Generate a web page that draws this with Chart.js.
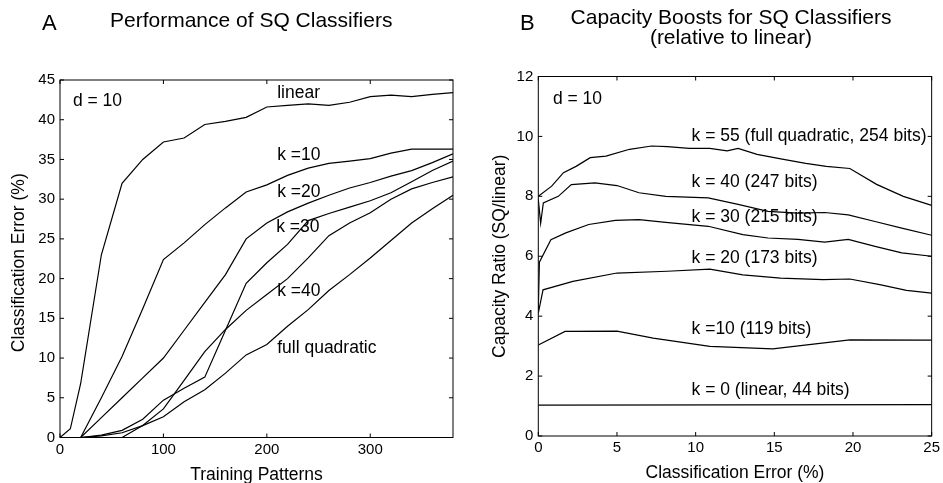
<!DOCTYPE html>
<html>
<head>
<meta charset="utf-8">
<script src="https://cdn.jsdelivr.net/npm/chart.js"></script>
<style>
    body { margin: 0; background: #fff; width: 943px; height: 483px; overflow: hidden; position: relative; }
    canvas { position: absolute; top: 0; }
    #chartA { left: 0; }
    #chartB { left: 470px; }
</style>
</head>
<body>
<canvas id="chartA" width="470" height="483"></canvas>
<canvas id="chartB" width="473" height="483"></canvas>
<script>
    // ---- panel A : error vs training patterns ----
    const trainingPatterns = [0, 10, 20, 40, 60, 80, 100, 120, 140, 160, 180, 200, 220, 240, 260, 280, 300, 320, 340, 360, 380];
    const errLinear = [0, 1.1, 6.8, 23, 32, 35, 37.2, 37.7, 39.4, 39.8, 40.3, 41.6, 41.8, 42, 41.8, 42.2, 42.9, 43.1, 42.9, 43.2, 43.4];
    const errK10 = [0, 0, 0, 5, 10.2, 16.2, 22.4, 24.5, 26.8, 28.9, 30.9, 31.8, 33, 33.9, 34.5, 34.8, 35.1, 35.8, 36.3, 36.3, 36.3];
    const errK20 = [0, 0, 0, 2.5, 5, 7.5, 10, 13.5, 17, 20.5, 25, 27, 28.4, 29.5, 30.5, 31.4, 32.1, 32.9, 33.6, 34.6, 35.7];
    const errK30 = [0, 0, 0, 0.3, 0.9, 2.3, 4.7, 6.2, 7.6, 13.5, 19.4, 22, 24.3, 27.3, 28.2, 29, 29.8, 30.8, 32.2, 33.6, 34.8];
    const errK40 = [0, 0, 0, 0, 0, 1.5, 3.6, 7.2, 10.8, 13.6, 16, 18, 20, 22.6, 25.4, 27, 28.3, 30, 31.3, 32.1, 32.8];
    const errFull = [0, 0, 0, 0.2, 0.6, 1.5, 2.6, 4.5, 6, 8.1, 10.4, 11.7, 14, 16.1, 18.5, 20.5, 22.6, 24.8, 27, 28.8, 30.5];
    const ticksAX = [0, 100, 200, 300];
    const ticksAY = [0, 5, 10, 15, 20, 25, 30, 35, 40, 45];

    // ---- panel B : capacity ratio vs classification error ----
    const k55X = [0, 0.85, 1.6, 2.4, 3.3, 4.3, 5.8, 7.2, 8.2, 9.6, 10.9, 12, 12.7, 13.9, 15.5, 17, 18.3, 19.8, 21.5, 23.2, 25];
    const k55Y = [8.0, 8.34, 8.79, 9.0, 9.29, 9.34, 9.57, 9.68, 9.66, 9.6, 9.6, 9.52, 9.6, 9.4, 9.24, 9.1, 9.0, 8.93, 8.4, 8.0, 7.7];
    const k40X = [0, 0.15, 0.32, 1.27, 2.1, 3.6, 5, 6.4, 8.1, 10.8, 12.7, 14.6, 16.5, 18.2, 19.7, 21.4, 23.1, 25];
    const k40Y = [7.9, 7.1, 7.78, 8.0, 8.39, 8.45, 8.36, 8.12, 8.0, 7.95, 7.73, 7.5, 7.44, 7.46, 7.38, 7.16, 6.94, 6.7];
    const k30X = [0, 0.07, 0.8, 1.75, 3.2, 4.9, 6.4, 8.1, 10.8, 13, 14.6, 16.5, 18.2, 19.7, 21.4, 23.1, 25];
    const k30Y = [4.2, 5.8, 6.55, 6.78, 7.06, 7.2, 7.22, 7.13, 7.0, 6.72, 6.61, 6.56, 6.47, 6.56, 6.33, 6.11, 6.0];
    const k20X = [0, 0.3, 2.2, 5, 8.2, 10.9, 13, 15.4, 18.1, 19.8, 21.7, 23.4, 25];
    const k20Y = [4.1, 4.88, 5.16, 5.44, 5.5, 5.57, 5.38, 5.27, 5.22, 5.24, 5.05, 4.86, 4.77];
    const k10X = [0, 1.7, 5, 7.3, 10.9, 14.9, 19.8, 25];
    const k10Y = [3.04, 3.49, 3.5, 3.27, 2.99, 2.91, 3.21, 3.2];
    const k0X = [0, 25];
    const k0Y = [1.03, 1.05];
    const ticksBX = [0, 5, 10, 15, 20, 25];
    const ticksBY = [0, 2, 4, 6, 8, 10, 12];

    const FONT = '"Liberation Sans", Arial, Helvetica, sans-serif';
    Chart.defaults.font.family = FONT;
    Chart.defaults.color = '#000';

    function pairs(xs, ys) {
        return xs.map((x, i) => ({x: x, y: ys[i]}));
    }

    function curve(xs, ys) {
        return {
            data: pairs(xs, ys),
            showLine: true,
            borderColor: '#000',
            borderWidth: 1.2,
            pointRadius: 0,
            tension: 0
        };
    }

    // box, inward ticks (matlab look), labels and titles
    const framePlugin = {
        id: 'frame',
        afterDraw(chart, args, opts) {
            const ctx = chart.ctx;
            const a = chart.chartArea;
            const sx = chart.scales.x, sy = chart.scales.y;
            ctx.save();
            ctx.strokeStyle = '#000';
            ctx.lineWidth = 1;
            ctx.strokeRect(a.left, a.top, a.right - a.left, a.bottom - a.top);
            ctx.beginPath();
            sx.ticks.forEach(t => {
                const p = sx.getPixelForValue(t.value);
                ctx.moveTo(p, a.bottom); ctx.lineTo(p, a.bottom - 4);
                ctx.moveTo(p, a.top); ctx.lineTo(p, a.top + 4);
            });
            sy.ticks.forEach(t => {
                const p = sy.getPixelForValue(t.value);
                ctx.moveTo(a.left, p); ctx.lineTo(a.left + 4, p);
                ctx.moveTo(a.right, p); ctx.lineTo(a.right - 4, p);
            });
            ctx.stroke();

            ctx.fillStyle = '#000';
            ctx.textBaseline = 'middle';
            // labels inside the plot, placed in data units
            ctx.textAlign = 'left';
            ctx.font = '17.5px ' + FONT;
            opts.notes.forEach(n => {
                ctx.fillText(n.text, sx.getPixelForValue(n.x), sy.getPixelForValue(n.y));
            });
            // axis titles
            ctx.textAlign = 'center';
            ctx.font = '17.5px ' + FONT;
            ctx.fillText(opts.xTitle, (a.left + a.right) / 2, opts.xTitleY);
            ctx.save();
            ctx.translate(opts.yTitleX, (a.top + a.bottom) / 2 + opts.yTitleShift);
            ctx.rotate(-Math.PI / 2);
            ctx.fillText(opts.yTitle, 0, 0);
            ctx.restore();
            // panel letter and heading
            opts.headings.forEach(h => {
                ctx.font = h.size + 'px ' + FONT;
                ctx.textAlign = h.align;
                ctx.fillText(h.text, h.x, h.y);
            });
            ctx.restore();
        }
    };

    function axes(xMin, xMax, xTicks, yMin, yMax, yTicks, yWidth, xHeight) {
        return {
            x: {
                type: 'linear', min: xMin, max: xMax,
                afterBuildTicks: s => { s.ticks = xTicks.map(v => ({value: v})); },
                afterFit: s => { s.height = xHeight; },
                grid: {display: false, drawTicks: false},
                border: {display: false},
                ticks: {padding: 3, autoSkip: false, maxRotation: 0, color: '#000', font: {size: 15}}
            },
            y: {
                type: 'linear', min: yMin, max: yMax,
                afterBuildTicks: s => { s.ticks = yTicks.map(v => ({value: v})); },
                afterFit: s => { s.width = yWidth; },
                grid: {display: false, drawTicks: false},
                border: {display: false},
                ticks: {padding: 5, autoSkip: false, color: '#000', font: {size: 15}}
            }
        };
    }

    new Chart(document.getElementById('chartA'), {
        type: 'scatter',
        data: {
            datasets: [
                curve(trainingPatterns, errLinear),
                curve(trainingPatterns, errK10),
                curve(trainingPatterns, errK20),
                curve(trainingPatterns, errK30),
                curve(trainingPatterns, errK40),
                curve(trainingPatterns, errFull)
            ]
        },
        options: {
            responsive: false,
            animation: false,
            layout: {padding: {top: 80, right: 17, left: 0, bottom: 0}},
            scales: axes(0, 380, ticksAX, 0, 45, ticksAY, 60, 45.5),
            plugins: {
                legend: {display: false},
                tooltip: {enabled: false},
                frame: {
                    notes: [
                        {text: 'd = 10', x: 12.5, y: 42.3},
                        {text: 'linear', x: 210, y: 43.4},
                        {text: 'k =10', x: 210, y: 35.5},
                        {text: 'k =20', x: 210, y: 30.9},
                        {text: 'k =30', x: 209, y: 26.5},
                        {text: 'k =40', x: 210, y: 18.4},
                        {text: 'full quadratic', x: 210, y: 11.2}
                    ],
                    xTitle: 'Training Patterns',
                    xTitleY: 475,
                    yTitle: 'Classification Error (%)',
                    yTitleX: 19,
                    yTitleShift: 4,
                    headings: [
                        {text: 'A', x: 42, y: 24, size: 22, align: 'left'},
                        {text: 'Performance of SQ Classifiers', x: 110, y: 21, size: 21, align: 'left'}
                    ]
                }
            }
        },
        plugins: [framePlugin]
    });

    new Chart(document.getElementById('chartB'), {
        type: 'scatter',
        data: {
            datasets: [
                curve(k55X, k55Y),
                curve(k40X, k40Y),
                curve(k30X, k30Y),
                curve(k20X, k20Y),
                curve(k10X, k10Y),
                curve(k0X, k0Y)
            ]
        },
        options: {
            responsive: false,
            animation: false,
            layout: {padding: {top: 76.5, right: 11, left: 0, bottom: 0}},
            scales: axes(0, 25, ticksBX, 0, 12, ticksBY, 68.3, 47),
            plugins: {
                legend: {display: false},
                tooltip: {enabled: false},
                frame: {
                    notes: [
                        {text: 'd = 10', x: 0.93, y: 11.24},
                        {text: 'k = 55 (full quadratic, 254 bits)', x: 9.74, y: 10.0},
                        {text: 'k = 40 (247 bits)', x: 9.74, y: 8.46},
                        {text: 'k = 30 (215 bits)', x: 9.74, y: 7.29},
                        {text: 'k = 20 (173 bits)', x: 9.74, y: 5.95},
                        {text: 'k =10 (119 bits)', x: 9.74, y: 3.55},
                        {text: 'k = 0 (linear, 44 bits)', x: 9.74, y: 1.54}
                    ],
                    xTitle: 'Classification Error (%)',
                    xTitleY: 473,
                    yTitle: 'Capacity Ratio (SQ/linear)',
                    yTitleX: 30.5,
                    yTitleShift: 0,
                    headings: [
                        {text: 'B', x: 50, y: 24, size: 22, align: 'left'},
                        {text: 'Capacity Boosts for SQ Classifiers', x: 261, y: 18, size: 21, align: 'center'},
                        {text: '(relative to linear)', x: 261, y: 38, size: 21, align: 'center'}
                    ]
                }
            }
        },
        plugins: [framePlugin]
    });
</script>
</body>
</html>
